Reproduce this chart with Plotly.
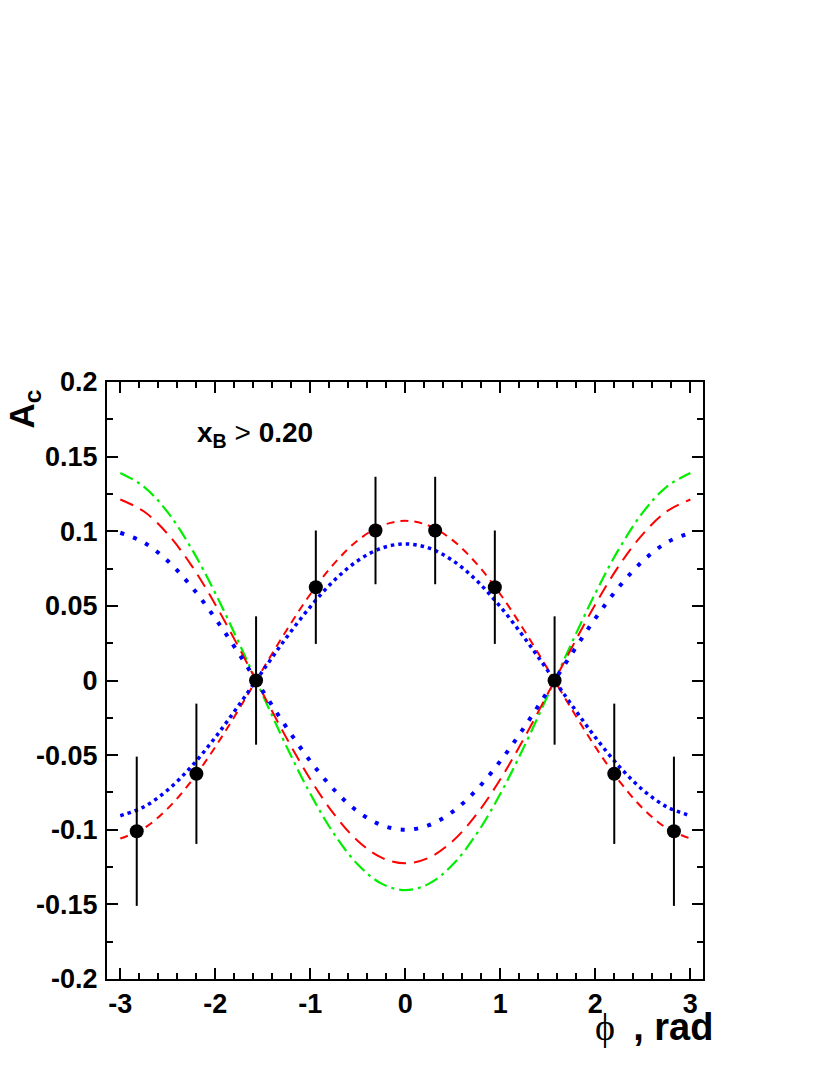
import plotly.graph_objects as go

# ---- data points ----
phi_data = [-2.827, -2.199, -1.571, -0.942, -0.314, 0.314, 0.942, 1.571, 2.199, 2.827]
ac_data = [-0.101, -0.0625, 0.0, 0.0625, 0.1005, 0.1005, 0.0625, 0.0, -0.0625, -0.101]
ac_err = [0.050, 0.047, 0.043, 0.038, 0.036, 0.036, 0.038, 0.043, 0.047, 0.050]

# ---- model curves ----
phi_curve = [-3.0, -2.75, -2.5, -2.25, -2.0, -1.75, -1.5, -1.25, -1.0, -0.75, -0.5, -0.25, 0.0,
             0.25, 0.5, 0.75, 1.0, 1.25, 1.5, 1.75, 2.0, 2.25, 2.5, 2.75, 3.0]
red_short = [-0.1059, -0.0989, -0.0857, -0.0672, -0.0445, -0.0191, 0.0076, 0.0337, 0.0578, 0.0783, 0.0939, 0.1037, 0.107,
             0.1037, 0.0939, 0.0783, 0.0578, 0.0337, 0.0076, -0.0191, -0.0445, -0.0672, -0.0857, -0.0989, -0.1059]
red_long = [0.1213, 0.1132, 0.0981, 0.0770, 0.0510, 0.0218, -0.0087, -0.0386, -0.0662, -0.0896, -0.1075, -0.1187, -0.1225,
            -0.1187, -0.1075, -0.0896, -0.0662, -0.0386, -0.0087, 0.0218, 0.0510, 0.0770, 0.0981, 0.1132, 0.1213]
green_dd = [0.1391, 0.1298, 0.1126, 0.0883, 0.0585, 0.0250, -0.0099, -0.0443, -0.0759, -0.1028, -0.1233, -0.1361, -0.1405,
            -0.1361, -0.1233, -0.1028, -0.0759, -0.0443, -0.0099, 0.0250, 0.0585, 0.0883, 0.1126, 0.1298, 0.1391]
blue_pos = [-0.0906, -0.0846, -0.0733, -0.0575, -0.0381, -0.0163, 0.0065, 0.0289, 0.0494, 0.0670, 0.0803, 0.0887, 0.0915,
            0.0887, 0.0803, 0.0670, 0.0494, 0.0289, 0.0065, -0.0163, -0.0381, -0.0575, -0.0733, -0.0846, -0.0906]
blue_neg = [0.0990, 0.0924, 0.0801, 0.0628, 0.0416, 0.0178, -0.0071, -0.0315, -0.0540, -0.0732, -0.0878, -0.0969, -0.1000,
            -0.0969, -0.0878, -0.0732, -0.0540, -0.0315, -0.0071, 0.0178, 0.0416, 0.0628, 0.0801, 0.0924, 0.0990]

# ---- tick labels ----
x_tickvals = [-3, -2, -1, 0, 1, 2, 3]
x_ticktext = ["-3", "-2", "-1", "0", "1", "2", "3"]
y_tickvals = [-0.2, -0.15, -0.1, -0.05, 0, 0.05, 0.1, 0.15, 0.2]
y_ticktext = ["-0.2", "-0.15", "-0.1", "-0.05", "0", "0.05", "0.1", "0.15", "0.2"]

FONT = "Liberation Sans, Arial, Helvetica, sans-serif"

fig = go.Figure()

fig.add_trace(go.Scatter(x=phi_curve, y=green_dd, mode="lines", line_shape="spline",
                         line=dict(color="#00ee00", width=2.2, dash="14px,5px,3px,5px"), showlegend=False))
fig.add_trace(go.Scatter(x=phi_curve, y=red_long, mode="lines", line_shape="spline",
                         line=dict(color="#ff0000", width=2, dash="14px,8px"), showlegend=False))
fig.add_trace(go.Scatter(x=phi_curve, y=red_short, mode="lines", line_shape="spline",
                         line=dict(color="#ff0000", width=2, dash="8px,6px"), showlegend=False))
fig.add_trace(go.Scatter(x=phi_curve, y=blue_pos, mode="lines", line_shape="spline",
                         line=dict(color="#0000ff", width=3.5, dash="3.5px,4px"), showlegend=False))
fig.add_trace(go.Scatter(x=phi_curve, y=blue_neg, mode="lines", line_shape="spline",
                         line=dict(color="#0000ff", width=4, dash="4px,9.5px"), showlegend=False))

fig.add_trace(go.Scatter(
    x=phi_data, y=ac_data, mode="markers",
    marker=dict(color="black", size=14),
    error_y=dict(type="data", array=ac_err, color="black", thickness=2, width=0),
    showlegend=False))

axis_common = dict(
    showline=True, linecolor="black", linewidth=2, mirror="ticks",
    ticks="inside", ticklen=11, tickwidth=1.5, tickcolor="black",
    showgrid=False, zeroline=False,
    tickfont=dict(family=FONT, size=27, color="black", weight="bold"),
)

fig.update_xaxes(range=[-3.14, 3.133], tickvals=x_tickvals, ticktext=x_ticktext,
                 minor=dict(ticks="inside", ticklen=6, tickwidth=1.5, tickcolor="black", dtick=0.2, tick0=0),
                 ticklabelstandoff=0, **axis_common)
fig.update_yaxes(range=[-0.2, 0.2], tickvals=y_tickvals, ticktext=y_ticktext,
                 minor=dict(ticks="inside", ticklen=6, tickwidth=1.5, tickcolor="black", dtick=0.025, tick0=0),
                 ticklabelstandoff=2, **axis_common)

fig.add_annotation(xref="paper", yref="paper", x=1.0, y=0.0, xshift=12, yshift=-25,
                   xanchor="right", yanchor="top", showarrow=False,
                   text="<span style='font-family:Liberation Serif, DejaVu Serif, serif;font-weight:normal'>ϕ</span> \u2009, rad",
                   font=dict(family=FONT, size=38, color="black", weight="bold"))
fig.add_annotation(xref="paper", yref="paper", x=0.0, y=1.0, xshift=-84, yshift=-6,
                   xanchor="center", yanchor="top", showarrow=False, textangle=-90,
                   text="A<sub>c</sub>",
                   font=dict(family=FONT, size=35, color="black", weight="bold"))
fig.add_annotation(xref="paper", yref="paper", x=0.0, y=1.0, xshift=88, yshift=-33,
                   xanchor="left", yanchor="top", showarrow=False,
                   text="x<sub>B</sub> <span style='font-weight:normal'>&gt;</span> 0.20",
                   font=dict(family=FONT, size=28, color="black", weight="bold"))

# the page body adds an 8px offset, so margins are shifted to keep the frame where the reference has it
fig.update_layout(
    width=830, height=1075,
    margin=dict(l=99, r=135, t=374, b=104, pad=0),
    plot_bgcolor="white", paper_bgcolor="white",
    showlegend=False,
)

fig.write_html("out.html")
